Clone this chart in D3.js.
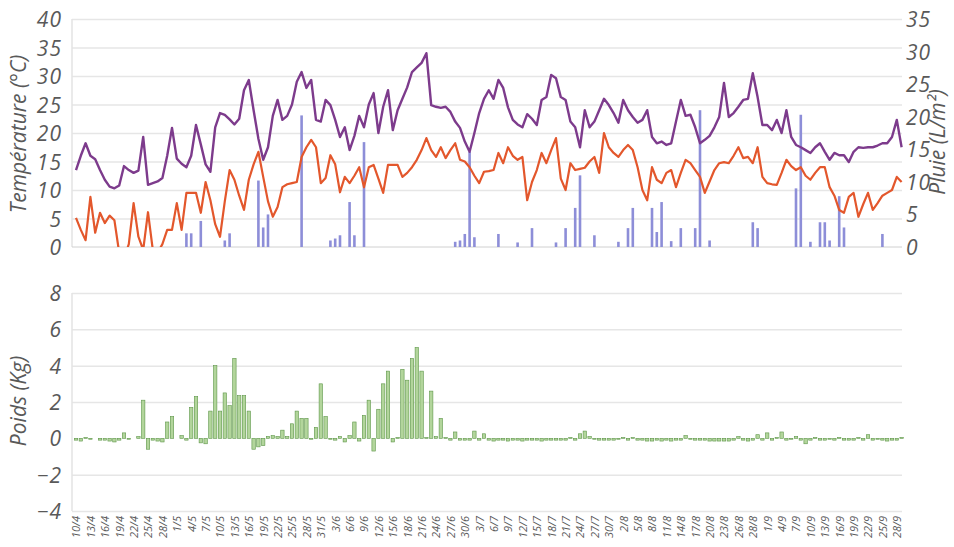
<!DOCTYPE html>
<html>
<head>
<meta charset="utf-8">
<script src="https://cdn.jsdelivr.net/npm/d3@7"></script>
<style>
  body { margin: 0; background: #fff; }
  text { font-family: "Open Sans", "Noto Sans", sans-serif; font-style: italic; fill: #595959; }
</style>
</head>
<body>
<div id="chart"></div>
<script>
// tick labels, one every 3 days
var dateLabels = ["10/4","13/4","16/4","19/4","22/4","25/4","28/4","1/5","4/5","7/5","10/5","13/5","16/5","19/5",
  "22/5","25/5","28/5","31/5","3/6","6/6","9/6","12/6","15/6","18/6","21/6","24/6","27/6","30/6","3/7","6/7",
  "9/7","12/7","15/7","18/7","21/7","24/7","27/7","30/7","2/8","5/8","8/8","11/8","14/8","17/8","20/8","23/8",
  "26/8","28/8","1/9","4/9","7/9","10/9","13/9","16/9","19/9","22/9","25/9","28/9"];

// max temperature (°C)
var tempMax = [13.5,16,18.2,16,15.4,13.5,11.8,10.6,10.3,10.8,
  14.2,13.5,13,13.4,19.3,10.9,11.2,11.5,12.1,16,
  20.9,15.5,14.6,14,16,21.4,18,14.5,13.2,21,
  23.5,23.2,22.4,21.5,22.5,27.5,29.3,24,19,15.3,
  17.5,23,25.8,22.3,23,25,29,30.7,27.9,29.3,
  22.3,22,25.8,24.9,22.3,19.3,21,17,19.5,23,
  21,25,27,20,24.6,27.5,20.5,24,26,28,
  30.7,31.5,32.3,34,24.9,24.6,24.4,24.6,23.7,22,
  20.9,18.5,16.7,20,23.5,26,27.5,26,29.3,27.9,
  24.5,22.3,21.5,21,23.3,22.5,21.4,25.8,26.3,30.2,
  29.6,26.3,25.8,22,21,17.5,24,21,22,24,
  26,24.9,23.5,21.8,25.8,24,22.8,21.8,22.3,24,
  19.3,18.2,18.5,17.9,18.2,22,25.8,23,23.2,21,
  18.2,18.8,19.5,21,22.8,28.8,22.8,23.5,24.6,25.8,
  26,30.5,26.3,21.4,21.4,20.5,22.3,20,24,19.3,
  17.9,17.5,17,16.5,17.5,18.2,16.7,15.3,16.5,16.1,
  16.1,14.9,16.7,17.5,17.4,17.5,17.5,17.8,18.2,18.2,
  19.3,22.3,17.5];

// min temperature (°C)
var tempMin = [5.1,3,1.2,8.8,2.5,6,4.2,5.5,4.7,-1,
  -2,0.5,7.7,1.8,-0.5,6.1,-0.5,-1,0.5,3,
  3,7.7,3,9.5,9.5,9.5,6,11.4,8.2,4,
  1.8,8,13.5,11.8,9,6.5,11.8,14.5,16.7,12.3,
  8,5.3,7,10.5,11,11.2,11.4,15.8,17.5,18.8,
  17.5,11.2,12.1,16.1,14.5,9.6,12.3,11.2,12.5,14,
  10.5,14,14.4,12,9.5,14.4,14.4,14.4,12.3,13,
  14,15.3,17,19.1,17,15.8,17.5,15.6,17,18.2,
  15.3,15,14,12.5,11.2,13.2,13.3,13.5,16.5,14.7,
  17.5,16,15.3,15.8,8.2,11.4,13.5,16.5,14.7,17,
  19.1,12,10,14.7,13.5,13.7,13.9,15,15.8,13,
  20,17.5,16.5,15.8,17,17.9,17,14,10,8.2,
  14,11.8,11.2,13,13.5,10.5,13,15.3,14.7,13.5,
  12.3,9.5,11.5,13.5,14.7,14.9,14.7,16,17.5,15.6,
  15.8,14.7,17.5,12.3,11.2,11,10.9,13,15.3,14.2,
  13.5,14,12.5,11.8,13,14,14,10.5,9,6.5,
  6,8.8,9.5,5.3,7.5,9.5,6.5,7.7,9,9.5,
  10,12.3,11.4];

// rain (L/m2)
var rain = [0,0,0,0,0,0,0,0,0,0,
  0,0,0,0,0,0,0,0,0,0,
  0,0,0,2.1,2.1,0,4,0,0,0,
  0,1,2.1,0,0,0,0,0,10.2,3,
  5,0,0,0,0,0,0,20.2,0,0,
  0,0,0,1,1.3,1.8,0,6.9,1.8,0,
  16.1,0,0,0,0,0,0,0,0,0,
  0,0,0,0,0,0,0,0,0,0.8,
  1,2,14.6,1.5,0,0,0,0,2,0,
  0,0,0.7,0,0,2.9,0,0,0,0,
  0.7,0,2.9,0,6,11,0,0,1.8,0,
  0,0,0,0.8,0,2.9,6,0,0,0,
  6,2.3,6.9,0,0.9,0,2.9,0,0,2.9,
  21,0,1,0,0,0,0,0,0,0,
  0,3.8,2.9,0,0,0,0,0,0,0,
  9,20.3,0,0.8,0,3.8,3.8,1,0,7.8,
  3,0,0,0,0,0,0,0,2,0,
  0,0,0];

// weight (kg)
var weight = [-0.1,-0.15,0.05,-0.05,0,-0.1,-0.1,-0.15,-0.2,-0.1,
  0.3,-0.05,0,0.1,2.1,-0.6,-0.1,-0.15,-0.2,0.9,
  1.2,0,0.15,-0.1,1.7,2.3,-0.25,-0.3,1.5,4.0,
  1.5,2.5,1.8,4.4,2.35,2.35,1.5,-0.6,-0.47,-0.4,
  0.1,0.15,0.1,0.45,0.1,0.8,1.5,1.1,1.1,-0.05,
  0.6,3.0,1.2,-0.05,-0.1,0.1,-0.2,0.15,0.9,-0.15,
  1.26,2.1,-0.7,1.6,3.0,3.7,-0.2,0.05,3.8,3.2,
  4.4,5.0,3.7,0.05,2.6,0.1,1.1,0.05,-0.1,0.35,
  -0.1,-0.1,-0.1,0.4,-0.1,0.25,-0.1,-0.15,-0.1,-0.1,
  -0.15,-0.1,-0.1,-0.15,-0.1,-0.1,-0.1,-0.15,-0.1,-0.1,
  -0.1,-0.1,-0.1,0.05,-0.1,0.25,0.4,0.1,-0.05,-0.1,
  -0.1,-0.1,-0.1,-0.05,0.05,-0.1,0.05,-0.1,-0.1,-0.15,
  -0.15,-0.1,-0.15,-0.1,-0.15,-0.1,-0.1,0.15,-0.05,-0.1,
  -0.1,-0.1,-0.15,-0.15,-0.15,-0.15,-0.15,-0.1,0.1,-0.1,
  -0.15,-0.1,0.2,-0.1,0.3,-0.1,0.05,0.35,-0.1,-0.05,
  0.1,-0.1,-0.3,-0.1,0.05,-0.1,-0.1,-0.05,-0.1,0.05,
  -0.1,-0.1,-0.1,0.05,-0.1,0.2,-0.1,-0.05,-0.1,-0.15,
  -0.1,-0.1,0.05];

var svgWidth = 954, svgHeight = 547;
var left = 72, right = 902;
var N = tempMax.length;

var svg = d3.select("#chart").append("svg")
  .attr("width", svgWidth)
  .attr("height", svgHeight);

var x = d3.scalePoint()
  .domain(d3.range(N))
  .range([76, 901.6]);

// ---------- top panel : temperature + rain ----------
var topY0 = 247, topY1 = 19;
var yTemp = d3.scaleLinear().domain([0, 40]).range([topY0, topY1]);
var yRain = d3.scaleLinear().domain([0, 35]).range([topY0, topY1]);

var gridTop = svg.append("g")
  .attr("transform", `translate(${left},0)`)
  .call(d3.axisLeft(yTemp).tickValues(d3.range(5, 41, 5)).tickSize(-(right - left)).tickFormat(""));
gridTop.select(".domain").remove();
gridTop.selectAll("line").attr("stroke", "#e6e6e6").attr("stroke-width", 1.5);

svg.append("line")
  .attr("x1", left).attr("x2", left).attr("y1", topY1).attr("y2", topY0)
  .attr("stroke", "#e3e3e3").attr("stroke-width", 1.5);
svg.append("line")
  .attr("x1", left).attr("x2", right).attr("y1", topY0).attr("y2", topY0)
  .attr("stroke", "#d0d0d0").attr("stroke-width", 1);

var leftAxis = svg.append("g")
  .attr("transform", `translate(${left},0)`)
  .call(d3.axisLeft(yTemp).tickValues(d3.range(0, 41, 5)).tickSize(0).tickPadding(10));
leftAxis.select(".domain").remove();
leftAxis.selectAll("text").style("font-size", "21px").style("letter-spacing", "1px").attr("dy", "0.36em");

var rightAxis = svg.append("g")
  .attr("transform", `translate(${right},0)`)
  .call(d3.axisRight(yRain).tickValues(d3.range(0, 36, 5)).tickSize(0).tickPadding(4));
rightAxis.select(".domain").remove();
rightAxis.selectAll("text").style("font-size", "21px").style("letter-spacing", "1px").attr("dy", "0.36em");

svg.append("defs").append("clipPath").attr("id", "clipTop")
  .append("rect").attr("x", left).attr("y", topY1 - 5).attr("width", right - left + 4).attr("height", topY0 - topY1 + 5);

var plotTop = svg.append("g").attr("clip-path", "url(#clipTop)");

plotTop.selectAll(".rain")
  .data(rain)
  .enter()
  .append("rect")
  .attr("class", "rain")
  .attr("x", (d, i) => x(i) - 1.3)
  .attr("width", 2.6)
  .attr("y", d => yRain(d))
  .attr("height", d => topY0 - yRain(d))
  .attr("fill", "#8d8ed8");

var tempLine = d3.line().x((d, i) => x(i)).y(d => yTemp(d));
plotTop.append("path")
  .datum(tempMin)
  .attr("d", tempLine)
  .attr("fill", "none")
  .attr("stroke", "#e3572c")
  .attr("stroke-width", 2.2)
  .attr("stroke-linejoin", "round");

plotTop.append("path")
  .datum(tempMax)
  .attr("d", tempLine)
  .attr("fill", "none")
  .attr("stroke", "#7d3b8c")
  .attr("stroke-width", 2.4)
  .attr("stroke-linejoin", "round");

svg.append("text")
  .attr("transform", "translate(26,134) rotate(-90)")
  .attr("text-anchor", "middle")
  .style("font-size", "21px")
  .text("Température (°C)");

svg.append("text")
  .attr("transform", "translate(945,142) rotate(-90)")
  .attr("text-anchor", "middle")
  .style("font-size", "21px")
  .text("Pluie (L/m²)");

// ---------- bottom panel : weight ----------
var botY0 = 511, botY1 = 293;
var yW = d3.scaleLinear().domain([-4, 8]).range([botY0, botY1]);

var gridBot = svg.append("g")
  .attr("transform", `translate(${left},0)`)
  .call(d3.axisLeft(yW).tickValues([-4, -2, 2, 4, 6, 8]).tickSize(-(right - left)).tickFormat(""));
gridBot.select(".domain").remove();
gridBot.selectAll("line").attr("stroke", "#e6e6e6").attr("stroke-width", 1.5);

svg.append("line")
  .attr("x1", left).attr("x2", left).attr("y1", botY1).attr("y2", botY0)
  .attr("stroke", "#e3e3e3").attr("stroke-width", 1.5);

var wAxis = svg.append("g")
  .attr("transform", `translate(${left},0)`)
  .call(d3.axisLeft(yW).tickValues(d3.range(-4, 9, 2)).tickSize(0).tickPadding(10));
wAxis.select(".domain").remove();
wAxis.selectAll("text").style("font-size", "21px").style("letter-spacing", "1px").attr("dy", "0.36em");

svg.selectAll(".weight")
  .data(weight)
  .enter()
  .append("rect")
  .attr("class", "weight")
  .attr("x", (d, i) => x(i) - 1.7)
  .attr("width", 3.4)
  .attr("y", d => yW(Math.max(0, d)))
  .attr("height", d => Math.abs(yW(d) - yW(0)))
  .attr("fill", "#b2d59b")
  .attr("stroke", "#5e9649")
  .attr("stroke-width", 0.6);

svg.append("text")
  .attr("transform", "translate(26,401) rotate(-90)")
  .attr("text-anchor", "middle")
  .style("font-size", "21px")
  .text("Poids (Kg)");

var xAxis = svg.append("g")
  .attr("transform", `translate(0,${botY0})`)
  .call(d3.axisBottom(x).tickValues(d3.range(0, N, 3)).tickSize(0).tickFormat(i => dateLabels[i / 3]));
xAxis.select(".domain").remove();
xAxis.selectAll("text")
  .style("font-size", "11px")
  .attr("text-anchor", "end")
  .attr("transform", "rotate(-90)")
  .attr("x", -5)
  .attr("y", 0)
  .attr("dy", "0.35em");
</script>
</body>
</html>
